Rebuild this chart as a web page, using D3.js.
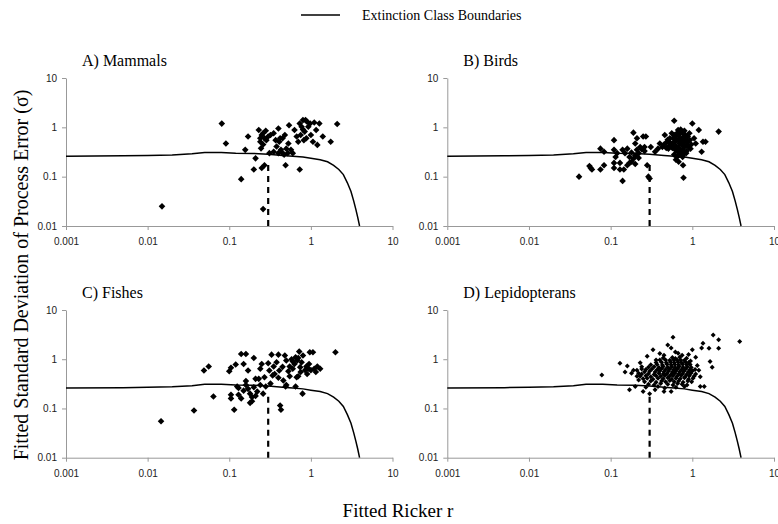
<!DOCTYPE html>
<html>
<head>
<meta charset="utf-8">
<script src="https://cdn.jsdelivr.net/npm/d3@7"></script>
<style>
  body { margin: 0; background: #fff; }
  svg { display: block; }
</style>
</head>
<body>
<svg id="chart" width="778" height="524"></svg>
<script>
// Extinction class plots: fitted Ricker r vs fitted sigma, four taxa

const svg = d3.select("#chart");
const W = +svg.attr("width"), H = +svg.attr("height");
svg.append("rect").attr("width", W).attr("height", H).attr("fill", "#fff");

// --- data ---
const xTicks = [0.001, 0.01, 0.1, 1, 10];
const yTicks = [0.01, 0.1, 1, 10];

// boundary curve (same in every panel)
const boundaryR     = [0.001, 0.005, 0.01, 0.02, 0.035, 0.05, 0.08, 0.12, 0.2, 0.3, 0.45, 0.6, 0.8, 1.0, 1.3, 1.6, 1.9, 2.2, 2.5, 2.8, 3.1, 3.35, 3.55, 3.75, 3.9, 3.95];
const boundarySigma = [0.26, 0.265, 0.27, 0.275, 0.29, 0.31, 0.31, 0.3, 0.295, 0.285, 0.27, 0.26, 0.25, 0.235, 0.22, 0.2, 0.17, 0.14, 0.11, 0.075, 0.05, 0.032, 0.022, 0.015, 0.011, 0.01];

// dashed line at r = 0.3
const dashR = 0.3;
const dashSigma = [0.01, 0.2];

const mammals = [
  [0.015,0.025],[0.081,1.19],[0.091,0.47],[0.14,0.089],[0.157,0.35],[0.17,0.65],[0.2,0.14],[0.21,0.235],
  [0.23,0.88],[0.24,0.51],[0.245,0.375],[0.25,0.7],[0.26,0.76],[0.26,0.022],[0.25,0.15],[0.27,0.17],
  [0.27,0.6],[0.285,0.55],[0.3,0.65],[0.32,0.7],[0.35,0.76],[0.37,0.55],[0.4,0.95],[0.41,0.51],
  [0.35,0.32],[0.38,0.41],[0.43,0.35],[0.45,0.6],[0.45,0.3],[0.48,0.7],[0.49,0.17],[0.5,0.37],
  [0.53,0.47],[0.54,1.1],[0.57,0.35],[0.6,0.3],[0.63,0.88],[0.67,0.65],[0.7,0.51],[0.73,0.14],
  [0.73,1.2],[0.8,1.4],[0.84,0.82],[0.88,0.6],[0.93,1.03],[0.98,1.2],[1.0,0.7],[1.06,0.51],
  [1.16,0.88],[1.2,0.44],[1.27,1.2],[1.4,0.65],[1.75,0.51],[2.1,1.17],[0.86,1.4],[0.77,1.03],
  [1.1,1.25],[0.28,0.85],[0.24,0.6],[0.31,0.3],[0.4,0.3],[0.47,0.28],[0.52,0.3],[0.42,0.6],
  [0.8,0.9],[0.9,1.3],[0.75,0.7],[0.26,0.45],[0.82,0.55]
];

const birds = [
  [0.041,0.1],[0.055,0.165],[0.057,0.15],[0.059,0.14],[0.075,0.14],[0.075,0.37],[0.083,0.17],[0.083,0.32],
  [0.11,0.55],[0.11,0.35],[0.115,0.25],[0.11,0.19],[0.11,0.15],[0.13,0.19],[0.13,0.14],[0.14,0.082],
  [0.14,0.35],[0.145,0.14],[0.16,0.37],[0.17,0.25],[0.17,0.19],[0.18,0.2],[0.19,0.23],[0.2,0.27],
  [0.19,0.78],[0.2,0.47],[0.21,0.6],[0.22,0.3],[0.23,0.4],[0.25,0.65],[0.26,0.4],[0.27,0.65],
  [0.28,0.17],[0.29,0.1],[0.3,0.092],[0.31,0.4],[0.35,0.32],[0.38,0.37],[0.4,0.47],[0.43,0.4],
  [0.46,0.7],[0.49,0.51],[0.51,0.37],[0.53,0.6],[0.56,0.76],[0.58,0.4],[0.6,1.36],[0.6,0.28],
  [0.63,0.22],[0.63,0.55],[0.67,0.88],[0.7,0.47],[0.72,0.32],[0.76,0.6],[0.77,0.17],[0.77,0.76],
  [0.78,0.095],[0.8,0.4],[0.84,0.3],[0.88,0.51],[0.92,0.76],[0.95,0.37],[1.0,1.2],[1.05,0.6],
  [1.1,0.47],[1.2,0.88],[1.3,0.32],[1.35,0.51],[1.45,0.51],[2.1,0.82],
  [0.55,0.45],[0.6,0.5],[0.65,0.55],[0.7,0.6],[0.62,0.65],[0.68,0.7],[0.74,0.8],[0.8,0.85],
  [0.72,0.9],[0.66,0.78],[0.58,0.6],[0.53,0.5],[0.57,0.38],[0.63,0.42],[0.68,0.38],[0.73,0.45],
  [0.78,0.5],[0.83,0.55],[0.86,0.45],[0.9,0.4],[0.75,0.35],[0.7,0.28],[0.66,0.32],[0.82,0.7],
  [0.88,0.65],[0.65,0.25],[0.62,0.35],[0.77,0.62],[0.71,0.52],[0.6,0.7],[0.52,0.42],[0.48,0.38],
  [0.45,0.45],[0.5,0.56],[0.85,0.33],[0.93,0.55],[0.97,0.45],[0.8,0.3],[0.76,0.25],[0.68,0.2],
  [0.12,0.3],[0.15,0.3],[0.18,0.31],[0.21,0.35],[0.24,0.36],[0.26,0.33],[0.16,0.17],[0.2,0.18],[0.22,0.24]
];

const fishes = [
  [0.0146,0.055],[0.037,0.091],[0.049,0.59],[0.056,0.71],[0.064,0.175],[0.1,0.57],[0.105,0.67],[0.105,0.19],
  [0.105,0.16],[0.115,0.094],[0.12,0.78],[0.125,0.28],[0.13,0.26],[0.14,0.16],[0.14,1.28],[0.16,1.28],
  [0.15,0.8],[0.16,0.36],[0.17,0.59],[0.18,0.2],[0.18,0.13],[0.19,0.14],[0.2,0.27],[0.2,1.06],
  [0.21,0.4],[0.21,0.18],[0.23,0.4],[0.24,0.64],[0.25,0.8],[0.27,0.43],[0.28,0.28],[0.3,0.83],
  [0.31,0.59],[0.33,1.24],[0.34,0.47],[0.35,0.71],[0.38,0.87],[0.4,0.42],[0.4,1.24],[0.41,0.59],
  [0.42,0.115],[0.43,0.094],[0.46,0.37],[0.48,1.19],[0.49,0.28],[0.5,0.94],[0.53,0.57],[0.55,0.71],
  [0.58,1.0],[0.6,0.64],[0.63,0.8],[0.65,0.28],[0.67,0.43],[0.7,1.06],[0.72,1.43],[0.74,0.69],
  [0.77,0.87],[0.8,1.19],[0.79,0.2],[0.88,0.71],[0.93,0.64],[0.97,1.39],[1.0,0.6],[1.06,1.39],
  [1.1,0.64],[1.2,0.71],[1.3,0.64],[2.0,1.39],
  [0.15,0.23],[0.17,0.25],[0.16,0.3],[0.22,0.22],[0.19,0.17],[0.24,0.3],[0.26,0.2],[0.13,0.19],
  [0.6,0.9],[0.65,1.1],[0.68,0.95],[0.75,0.55],[0.85,0.6],[0.9,0.5],[0.55,0.45],[0.45,0.7],
  [0.36,0.5],[0.95,0.8],[1.15,0.55],[0.7,0.45],[0.5,0.3],[0.32,0.32]
];

const lepidopterans = [
  // scattered points
  [0.078,0.48],[0.13,0.83],[0.16,0.73],[0.17,0.24],[0.18,0.52],[0.2,0.28],[0.19,0.6],[0.21,0.45],
  [0.22,0.38],[0.25,0.22],[0.33,1.55],[0.36,0.97],[0.46,0.26],[0.5,1.95],[0.58,2.8],[0.67,1.33],
  [1.0,1.55],[1.25,0.44],[1.35,2.1],[1.4,0.28],[1.25,0.28],[1.6,1.68],[1.65,0.9],[1.8,3.1],
  [2.1,2.5],[2.1,1.68],[3.8,2.3],[1.75,0.69],[1.3,1.7],[0.55,1.7],[0.62,1.4],[0.45,1.2],
  [0.28,1.15],[0.4,1.3],[0.75,1.2],[0.9,1.25],[1.1,1.1],[1.15,0.75],[1.2,0.6],[0.23,0.85],
  [0.24,0.7],[0.15,0.55],[0.3,0.2],[0.55,0.22],
  // dense core
  [0.29,0.31],[0.34,0.30],[0.41,0.32],[0.5,0.31],[0.58,0.3],[0.66,0.32],[0.75,0.31],[0.86,0.3],
  [0.26,0.35],[0.31,0.36],[0.36,0.34],[0.42,0.36],[0.47,0.35],[0.53,0.37],[0.6,0.35],[0.68,0.36],[0.77,0.34],[0.88,0.36],[0.98,0.35],
  [0.25,0.4],[0.28,0.41],[0.33,0.39],[0.38,0.41],[0.44,0.4],[0.5,0.42],[0.56,0.39],[0.63,0.41],[0.71,0.4],[0.8,0.42],[0.9,0.39],[1.02,0.41],
  [0.23,0.45],[0.27,0.46],[0.31,0.44],[0.36,0.46],[0.41,0.45],[0.46,0.47],[0.52,0.44],[0.58,0.46],[0.65,0.45],[0.73,0.47],[0.82,0.44],[0.92,0.46],[1.05,0.45],
  [0.24,0.5],[0.29,0.51],[0.34,0.49],[0.39,0.52],[0.44,0.5],[0.49,0.51],[0.55,0.49],[0.61,0.52],[0.68,0.5],[0.76,0.51],[0.85,0.49],[0.96,0.52],
  [0.26,0.56],[0.3,0.57],[0.35,0.55],[0.4,0.58],[0.45,0.56],[0.51,0.57],[0.57,0.55],[0.63,0.58],[0.7,0.56],[0.79,0.57],[0.89,0.55],[1.0,0.58],
  [0.27,0.62],[0.32,0.63],[0.37,0.61],[0.42,0.64],[0.47,0.62],[0.53,0.63],[0.59,0.61],[0.66,0.64],[0.74,0.62],[0.83,0.63],[0.93,0.61],
  [0.29,0.69],[0.34,0.7],[0.39,0.68],[0.44,0.71],[0.5,0.69],[0.56,0.7],[0.62,0.68],[0.69,0.71],[0.77,0.69],[0.87,0.7],[0.97,0.68],
  [0.31,0.77],[0.37,0.78],[0.43,0.76],[0.49,0.79],[0.55,0.77],[0.61,0.78],[0.68,0.76],[0.76,0.79],[0.85,0.77],[0.94,0.78],
  [0.36,0.86],[0.42,0.87],[0.48,0.85],[0.54,0.88],[0.6,0.86],[0.67,0.87],[0.74,0.85],[0.82,0.88],[0.9,0.86],
  [0.4,0.96],[0.47,0.97],[0.53,0.95],[0.59,0.98],[0.65,0.96],[0.72,0.97],[0.8,0.95],
  [0.44,1.06],[0.57,1.08],[0.7,1.1],[0.62,1.04],[0.85,1.05],[0.95,0.92],[1.08,0.62],[1.1,0.5],
  [0.22,0.52],[0.21,0.6],[0.24,0.63],[0.27,0.27],[0.38,0.28],[0.63,0.27],[0.8,0.28],[0.35,0.24],[0.45,0.22]
];

// panel layout (pixel boxes)
const panels = [
  { title: "A) Mammals",      data: mammals,       x0: 66,    x1: 392.5, yTop: 78,  yBot: 226,   r: 3.3 },
  { title: "B) Birds",        data: birds,         x0: 447.3, x1: 774,   yTop: 78,  yBot: 226,   r: 3.3 },
  { title: "C) Fishes",       data: fishes,        x0: 66,    x1: 392.5, yTop: 310, yBot: 457.7, r: 3.3 },
  { title: "D) Lepidopterans",data: lepidopterans, x0: 447.3, x1: 774,   yTop: 310, yBot: 457.7, r: 2.5 }
];

const serif = "'Liberation Serif', 'Times New Roman', serif";
const sans = "'Liberation Sans', Arial, sans-serif";
const fmt = d => String(d);
const diamond = r => `M0,${-r}L${r},0L0,${r}L${-r},0Z`;

const boundary = boundaryR.map((r, i) => [r, boundarySigma[i]]);

panels.forEach(p => {
  const x = d3.scaleLog().domain([0.001, 10]).range([p.x0, p.x1]);
  const y = d3.scaleLog().domain([0.01, 10]).range([p.yBot, p.yTop]);
  const g = svg.append("g");

  // axes
  const xa = g.append("g").attr("transform", `translate(0,${p.yBot})`)
    .call(d3.axisBottom(x).tickValues(xTicks).tickFormat(fmt).tickSize(4).tickSizeOuter(0).tickPadding(8));
  const ya = g.append("g").attr("transform", `translate(${p.x0},0)`)
    .call(d3.axisLeft(y).tickValues(yTicks).tickFormat(fmt).tickSize(4).tickSizeOuter(0).tickPadding(5));
  [xa, ya].forEach(a => {
    a.select(".domain").attr("stroke", "#999").attr("stroke-width", 1);
    a.selectAll(".tick line").attr("stroke", "#999");
    a.selectAll("text").attr("font-family", sans).attr("font-size", 10).attr("fill", "#222");
  });

  // boundary curve
  g.append("path").datum(boundary)
    .attr("fill", "none").attr("stroke", "#000").attr("stroke-width", 1.5)
    .attr("d", d3.line().x(d => x(d[0])).y(d => y(d[1])));

  // dashed line at r = 0.3
  g.append("line")
    .attr("x1", x(dashR)).attr("x2", x(dashR))
    .attr("y1", y(dashSigma[0])).attr("y2", y(dashSigma[1]))
    .attr("stroke", "#000").attr("stroke-width", 2.2).attr("stroke-dasharray", "6,5");

  // points
  g.selectAll("path.pt").data(p.data).join("path")
    .attr("class", "pt")
    .attr("transform", d => `translate(${x(d[0])},${y(d[1])})`)
    .attr("d", diamond(p.r))
    .attr("fill", "#000");

  // title
  g.append("text")
    .attr("x", p.x0 + 16).attr("y", p.yTop - 12)
    .attr("font-family", serif).attr("font-size", 16).attr("fill", "#000")
    .text(p.title);
});

// legend
svg.append("line").attr("x1", 301).attr("x2", 340).attr("y1", 15).attr("y2", 15)
  .attr("stroke", "#000").attr("stroke-width", 1.5);
svg.append("text").attr("x", 362).attr("y", 19.5)
  .attr("font-family", serif).attr("font-size", 14).attr("fill", "#000")
  .text("Extinction Class Boundaries");

// axis titles
svg.append("text")
  .attr("transform", "translate(28,275) rotate(-90)")
  .attr("text-anchor", "middle")
  .attr("font-family", serif).attr("font-size", 20).attr("fill", "#000")
  .text("Fitted Standard Deviation of Process Error (σ)");

svg.append("text")
  .attr("x", 398).attr("y", 517)
  .attr("text-anchor", "middle")
  .attr("font-family", serif).attr("font-size", 19).attr("fill", "#000")
  .text("Fitted Ricker r");
</script>
</body>
</html>
